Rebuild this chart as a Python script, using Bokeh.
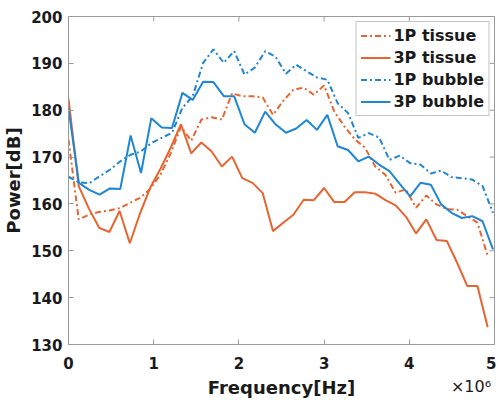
from bokeh.plotting import figure
from bokeh.models import FixedTicker, LinearAxis, Range1d
from bokeh.embed import file_html
from bokeh.resources import INLINE

# ---- data (frequency in units of 1e6 Hz, power in dB) ----
freq_tissue = [0.00, 0.12, 0.24, 0.36, 0.48, 0.60, 0.72, 0.84, 0.96, 1.08,
               1.20, 1.32, 1.44, 1.56, 1.68, 1.80, 1.92, 2.04, 2.16, 2.28,
               2.40, 2.52, 2.64, 2.76, 2.88, 3.00, 3.12, 3.24, 3.36, 3.48,
               3.60, 3.72, 3.84, 3.96, 4.08, 4.20, 4.32, 4.44, 4.56, 4.68,
               4.80, 4.92]
freq_bubble = [0.000, 0.122, 0.243, 0.365, 0.486, 0.608, 0.729, 0.851, 0.972, 1.094,
               1.215, 1.337, 1.458, 1.580, 1.701, 1.823, 1.944, 2.066, 2.187, 2.309,
               2.430, 2.552, 2.673, 2.795, 2.916, 3.038, 3.159, 3.281, 3.402, 3.524,
               3.645, 3.767, 3.888, 4.010, 4.131, 4.253, 4.374, 4.496, 4.617, 4.739,
               4.860, 4.982]

tissue_1p = [173.7, 156.7, 157.7, 158.3, 158.6, 159.1, 160.2, 161.3, 163.2, 166.3,
             170.8, 176.5, 173.5, 178.0, 178.5, 178.0, 183.6, 183.0, 183.0, 182.7,
             179.0, 182.0, 184.4, 184.8, 183.3, 185.3, 179.7, 176.5, 173.8, 172.0,
             168.0, 166.2, 162.4, 163.1, 159.2, 161.8, 159.9, 158.9, 158.8, 157.4,
             156.0, 148.9]
tissue_3p = [182.5, 163.8, 159.0, 154.9, 154.0, 158.5, 151.6, 158.0, 163.5, 167.5,
             172.0, 177.0, 170.8, 173.1, 171.2, 168.0, 170.1, 165.5, 164.5, 162.3,
             154.2, 156.0, 157.7, 160.9, 160.8, 163.4, 160.4, 160.4, 162.5, 162.5,
             162.2, 160.8, 159.7, 157.3, 153.7, 156.7, 152.3, 152.1, 147.5, 142.5,
             142.5, 133.7]
bubble_1p = [165.8, 164.6, 164.4, 165.9, 167.3, 169.1, 170.5, 171.2, 173.0, 174.1,
             175.2, 180.5, 183.0, 190.1, 193.0, 190.1, 192.6, 187.6, 189.1, 192.6,
             191.4, 187.8, 189.7, 188.3, 187.0, 186.5, 181.5, 179.4, 174.1, 175.1,
             174.2, 169.4, 170.3, 168.7, 168.4, 166.5, 167.1, 165.7, 165.5, 165.2,
             163.8, 158.1]
bubble_3p = [180.4, 164.5, 163.0, 162.0, 163.3, 163.2, 174.6, 166.6, 178.3, 176.3,
             176.2, 183.7, 182.2, 186.1, 186.0, 183.0, 183.0, 177.0, 175.2, 179.7,
             177.0, 175.2, 176.1, 177.9, 175.8, 179.0, 172.3, 171.5, 169.1, 170.1,
             168.4, 167.0, 164.3, 161.6, 164.5, 164.1, 159.9, 158.1, 157.0, 157.4,
             156.3, 150.3]

x_ticks = [0, 1, 2, 3, 4, 5]
x_tick_labels = ["0", "1", "2", "3", "4", "5"]
y_ticks = [130, 140, 150, 160, 170, 180, 190, 200]
exponent_text = "×10⁶"

X_MIN, X_MAX = 0, 5
Y_MIN, Y_MAX = 130, 200

ORANGE = "#E8642F"
BLUE = "#1E86D2"
FRAME = "#9a9a9a"
INK = "#1a1a1a"
FONT = "DejaVu Sans"
DASHDOT = "6 3 2 3"

W, H = 496, 400
BL, BR, BT, BB = 68, 2, 16, 55
FW, FH = W - BL - BR, H - BT - BB

p = figure(width=W, height=H, output_backend="svg", toolbar_location=None,
           x_range=Range1d(X_MIN, X_MAX), y_range=Range1d(Y_MIN, Y_MAX),
           min_border_left=BL, min_border_right=BR, min_border_top=BT,
           min_border_bottom=BB)
p.background_fill_color = "white"
p.border_fill_color = "white"
p.outline_line_color = FRAME
p.xgrid.visible = False
p.ygrid.visible = False

# mirrored inward ticks on top and right edges (5 px long)
tick_px = 5
dy = tick_px * (Y_MAX - Y_MIN) / FH
dx = tick_px * (X_MAX - X_MIN) / FW
p.segment(x0=x_ticks, y0=[Y_MAX] * len(x_ticks), x1=x_ticks,
          y1=[Y_MAX - dy] * len(x_ticks), line_color=FRAME, line_width=1)
p.segment(x0=[X_MAX] * len(y_ticks), y0=y_ticks, x1=[X_MAX - dx] * len(y_ticks),
          y1=y_ticks, line_color=FRAME, line_width=1)

p.line(freq_tissue, tissue_1p, color=ORANGE, line_width=2, line_dash=DASHDOT,
       legend_label="1P tissue")
p.line(freq_tissue, tissue_3p, color=ORANGE, line_width=2,
       legend_label="3P tissue")
p.line(freq_bubble, bubble_1p, color=BLUE, line_width=2, line_dash=DASHDOT,
       legend_label="1P bubble")
p.line(freq_bubble, bubble_3p, color=BLUE, line_width=2,
       legend_label="3P bubble")

xa = p.below[0]
ya = p.left[0]
xa.ticker = FixedTicker(ticks=x_ticks)
xa.major_label_overrides = {t: s for t, s in zip(x_ticks, x_tick_labels)}
ya.ticker = FixedTicker(ticks=y_ticks)
xa.axis_label = "Frequency[Hz]"
ya.axis_label = "Power[dB]"
for ax in (xa, ya):
    ax.major_tick_in = tick_px
    ax.major_tick_out = 0
    ax.minor_tick_in = 0
    ax.minor_tick_out = 0
    ax.axis_line_color = FRAME
    ax.major_tick_line_color = FRAME
    ax.major_label_text_font = FONT
    ax.major_label_text_font_style = "bold"
    ax.major_label_text_font_size = "15px"
    ax.major_label_text_color = INK
    ax.axis_label_text_font = FONT
    ax.axis_label_text_font_style = "bold"
    ax.axis_label_text_font_size = "18px"
    ax.axis_label_text_color = INK
xa.major_label_standoff = 12
xa.axis_label_standoff = 5
ya.major_label_standoff = 6
ya.axis_label_standoff = 4

# x10^6 exponent, shown as the single label of a bare secondary axis that is
# pulled up (negative standoff) into the row of the x-axis title
exp_pos = 4.724
exp_axis = LinearAxis(ticker=FixedTicker(ticks=[exp_pos]),
                      major_label_overrides={exp_pos: exponent_text},
                      axis_line_color=None, major_tick_in=0, major_tick_out=0,
                      minor_tick_in=0, minor_tick_out=0,
                      major_label_standoff=-24,
                      major_label_text_font=FONT,
                      major_label_text_font_style="normal",
                      major_label_text_font_size="16px",
                      major_label_text_color=INK)
p.add_layout(exp_axis, "below")

lg = p.legend[0]
lg.location = "top_right"
lg.margin = 5
lg.padding = 4
lg.spacing = 3
lg.glyph_width = 30
lg.glyph_height = 19
lg.label_height = 19
lg.label_standoff = 3
lg.label_text_font = FONT
lg.label_text_font_style = "bold"
lg.label_text_font_size = "16px"
lg.label_text_color = INK
lg.border_line_color = "#8a8a8a"
lg.background_fill_alpha = 1.0

open("out.html", "w").write(file_html(p, INLINE))
